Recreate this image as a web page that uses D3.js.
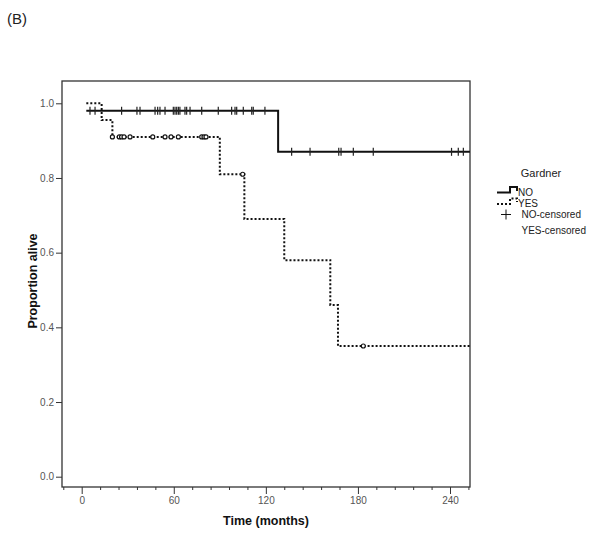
<!DOCTYPE html>
<html><head><meta charset="utf-8">
<script src="https://cdn.jsdelivr.net/npm/d3@7"></script>
<style>body{margin:0;background:#fff;}svg{display:block;font-family:"Liberation Sans",Arial,sans-serif;}</style>
</head><body>
<svg id="c" width="600" height="543"></svg>
<script>
// ---- data ----
const groups = ["NO", "YES"];
const noStepTimes = [3, 128];
const noStepSurv = [0.98, 0.87];
const yesStepTimes = [3, 13, 20, 90, 106, 132, 162, 167];
const yesStepSurv = [1.0, 0.955, 0.91, 0.81, 0.69, 0.58, 0.46, 0.35];
const endTime = 253;
const noCensorTimes = [5.4, 8.7, 26, 36, 38, 47.8, 49.5, 51, 54.3, 59.7, 60.8, 61.9, 63, 64, 67.3, 68.4, 70.6, 78.2, 89, 97.7, 99.9, 101, 105.3, 110.8, 111.8, 119.4,
  136.8, 148.8, 167.5, 169, 177, 190, 241, 245.4, 248.7];
const yesCensorTimes = [20, 24.5, 26, 27.6, 31.5, 46.3, 54.3, 58.2, 63, 78.2, 79.7, 81, 104.9, 183.5];
const xTickLabels = [0, 60, 120, 180, 240];
const yTickLabels = [0.0, 0.2, 0.4, 0.6, 0.8, 1.0];
const legendLabels = ["NO", "YES", "NO-censored", "YES-censored"];

const svg = d3.select("#c");
const x = d3.scaleLinear().domain([0, 240]).range([81.7, 450]);
const y = d3.scaleLinear().domain([0, 1]).range([476.7, 103.3]);
const L = 62, R = 470, T = 81, B = 487;

// "(B)"
svg.append("text").attr("x", 7).attr("y", 24).attr("font-size", 15).attr("fill", "#222").text("(B)");

// box
svg.append("rect").attr("x", L).attr("y", T).attr("width", R - L).attr("height", B - T)
  .attr("fill", "none").attr("stroke", "#333").attr("stroke-width", 1.3);

// y axis ticks
const yAxis = d3.axisLeft(y).tickValues(yTickLabels).tickFormat(d3.format(".1f")).tickSize(6).tickPadding(2);
const gy = svg.append("g").attr("transform", `translate(${L},0)`).call(yAxis);
gy.select(".domain").remove();
gy.selectAll("line").attr("stroke", "#333");
gy.selectAll("text").attr("font-size", 10).attr("fill", "#555").attr("font-family", "Liberation Sans, Arial");

// x axis: minor ticks every 12, major labelled every 60
const minorTicks = d3.range(-12, 253, 12);
const gxm = svg.append("g").attr("transform", `translate(0,${B})`)
  .call(d3.axisBottom(x).tickValues(minorTicks.filter(v => v % 60 !== 0)).tickSize(3).tickFormat(""));
gxm.select(".domain").remove();
gxm.selectAll("line").attr("stroke", "#333");
const gx = svg.append("g").attr("transform", `translate(0,${B})`)
  .call(d3.axisBottom(x).tickValues(xTickLabels).tickSize(7).tickPadding(3));
gx.select(".domain").remove();
gx.selectAll("line").attr("stroke", "#333");
gx.selectAll("text").attr("font-size", 10).attr("fill", "#555").attr("font-family", "Liberation Sans, Arial");

// axis titles
svg.append("text").attr("x", 266).attr("y", 525).attr("text-anchor", "middle")
  .attr("font-size", 12.5).attr("font-weight", "bold").attr("fill", "#111").text("Time (months)");
svg.append("text").attr("transform", "translate(37,281) rotate(-90)").attr("text-anchor", "middle")
  .attr("font-size", 12.5).attr("font-weight", "bold").attr("fill", "#111").text("Proportion alive");

// step curves
function stepPts(times, surv) {
  const pts = times.map((t, i) => [t, surv[i]]);
  pts.push([endTime, surv[surv.length - 1]]);
  return pts;
}
const line = d3.line().x(d => x(d[0])).y(d => y(d[1])).curve(d3.curveStepAfter);
svg.append("path").attr("d", line(stepPts(noStepTimes, noStepSurv)))
  .attr("fill", "none").attr("stroke", "#111").attr("stroke-width", 2);
svg.append("path").attr("d", line(stepPts(yesStepTimes, yesStepSurv)))
  .attr("fill", "none").attr("stroke", "#111").attr("stroke-width", 2).attr("stroke-dasharray", "2,2");

function survAt(times, surv, t) {
  let s = surv[0];
  for (let i = 0; i < times.length; i++) if (times[i] <= t) s = surv[i];
  return s;
}
// censor marks NO: vertical ticks
svg.append("g").selectAll("line").data(noCensorTimes).join("line")
  .attr("x1", d => x(d)).attr("x2", d => x(d))
  .attr("y1", d => y(survAt(noStepTimes, noStepSurv, d)) - 4)
  .attr("y2", d => y(survAt(noStepTimes, noStepSurv, d)) + 4)
  .attr("stroke", "#222").attr("stroke-width", 1.2);
// censor marks YES: small circles
svg.append("g").selectAll("circle").data(yesCensorTimes).join("circle")
  .attr("cx", d => x(d)).attr("cy", d => y(survAt(yesStepTimes, yesStepSurv, d)))
  .attr("r", 2).attr("fill", "#fff").attr("stroke", "#111").attr("stroke-width", 1.2);

// legend
const lg = svg.append("g").attr("font-size", 10).attr("fill", "#222");
lg.append("text").attr("x", 541).attr("y", 177).attr("text-anchor", "middle").attr("font-size", 11).text("Gardner");
lg.append("path").attr("d", "M497,192.5 H510 V187 H517 V191").attr("fill", "none").attr("stroke", "#111").attr("stroke-width", 2);
lg.append("path").attr("d", "M497,204 H510 V198.5 H517 V202").attr("fill", "none").attr("stroke", "#111").attr("stroke-width", 2).attr("stroke-dasharray", "2,2");
lg.append("path").attr("d", "M501,214.5 H511 M506,209.5 V219.5").attr("stroke", "#111").attr("stroke-width", 1);
const ly = [195.5, 206.5, 218, 234];
const lx = [518, 518, 521.5, 521.5];
legendLabels.forEach((t, i) => lg.append("text").attr("x", lx[i]).attr("y", ly[i]).text(t));
</script>
</body></html>
